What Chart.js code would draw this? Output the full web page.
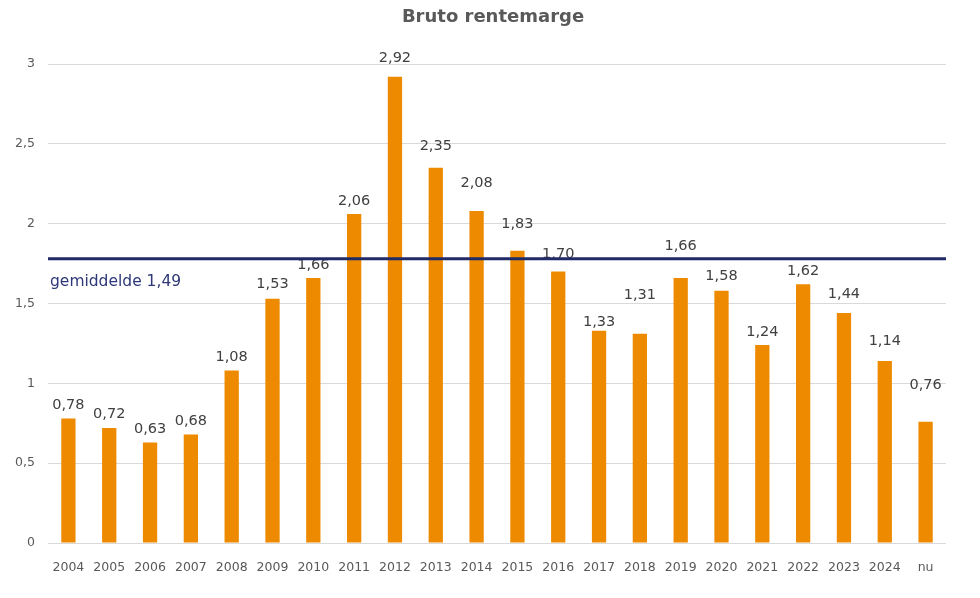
<!DOCTYPE html>
<html>
<head>
<meta charset="utf-8">
<script src="https://cdn.jsdelivr.net/npm/chart.js@4"></script>
<style>
  html, body { margin: 0; padding: 0; background: #fff; }
  #wrap { width: 980px; height: 598px; position: relative; }
</style>
</head>
<body>
<div id="wrap"><canvas id="chart"></canvas></div>
<script>
// Data
const categories = ['2004', '2005', '2006', '2007', '2008', '2009', '2010', '2011', '2012', '2013', '2014',
    '2015', '2016', '2017', '2018', '2019', '2020', '2021', '2022', '2023', '2024', 'nu'];
const margins = [0.78, 0.72, 0.63, 0.68, 1.08, 1.53, 1.66, 2.06, 2.92, 2.35, 2.08,
    1.83, 1.70, 1.33, 1.31, 1.66, 1.58, 1.24, 1.62, 1.44, 1.14, 0.76];
const averageLine = 1.78;
const averageLabel = 'gemiddelde 1,49';
const yTicks = [0, 0.5, 1, 1.5, 2, 2.5, 3];
const chartTitle = 'Bruto rentemarge';

const FONT = "'DejaVu Sans', Verdana, sans-serif";
const nl = v => String(v).replace('.', ',');

// Value labels sit above each bar; some were nudged by hand in the original
const labelLift = { '2005': 14, '2009': 14, '2012': 19, '2013': 22, '2014': 28, '2015': 27, '2016': 17,
    '2017': 8, '2018': 39, '2019': 32, '2020': 14, '2023': 19, '2024': 20, 'nu': 36 };

const valueLabels = {
    id: 'valueLabels',
    afterDatasetsDraw(chart) {
        const { ctx } = chart;
        const meta = chart.getDatasetMeta(0);
        ctx.save();
        ctx.font = '14.5px ' + FONT;
        ctx.fillStyle = '#404040';
        ctx.textAlign = 'center';
        ctx.textBaseline = 'middle';
        meta.data.forEach((bar, i) => {
            const lift = labelLift[categories[i]] || 13;
            ctx.fillText(margins[i].toFixed(2).replace('.', ','), bar.x, bar.y - lift);
        });
        ctx.restore();
    }
};

const averageMarker = {
    id: 'averageMarker',
    afterDatasetsDraw(chart) {
        const { ctx, chartArea } = chart;
        const y = chart.scales.y.getPixelForValue(averageLine);
        ctx.save();
        ctx.strokeStyle = '#1f2a66';
        ctx.lineWidth = 3;
        ctx.beginPath();
        ctx.moveTo(chartArea.left, y);
        ctx.lineTo(chartArea.right, y);
        ctx.stroke();
        ctx.font = '15.5px ' + FONT;
        ctx.fillStyle = '#2e3878';
        ctx.textAlign = 'left';
        ctx.textBaseline = 'middle';
        ctx.fillText(averageLabel, chartArea.left + 2, y + 23);
        ctx.restore();
    }
};

// Title is centred over the plot area, not over the canvas
const plotTitle = {
    id: 'plotTitle',
    afterDraw(chart) {
        const { ctx, chartArea } = chart;
        ctx.save();
        ctx.font = 'bold 18px ' + FONT;
        ctx.fillStyle = '#595959';
        ctx.textAlign = 'center';
        ctx.textBaseline = 'middle';
        ctx.fillText(chartTitle, (chartArea.left + chartArea.right) / 2 - 4, 17);
        ctx.restore();
    }
};

new Chart(document.getElementById('chart'), {
    type: 'bar',
    data: {
        labels: categories,
        datasets: [{
            label: chartTitle,
            data: margins,
            backgroundColor: '#ee8a00',
            borderWidth: 0,
            barPercentage: 0.35,
            categoryPercentage: 1
        }]
    },
    options: {
        responsive: true,
        maintainAspectRatio: false,
        animation: false,
        layout: { padding: { left: 0, right: 34, top: 64, bottom: 0 } },
        plugins: {
            legend: { display: false },
            tooltip: { enabled: false },
            title: { display: false }
        },
        scales: {
            x: {
                grid: { display: false },
                border: { display: false },
                ticks: {
                    color: '#595959',
                    font: { family: FONT, size: 12.5 },
                    padding: 9,
                    maxRotation: 0,
                    autoSkip: false
                },
                afterFit: s => { s.height = 55; }
            },
            y: {
                min: 0,
                max: 3,
                afterBuildTicks: s => { s.ticks = yTicks.map(v => ({ value: v })); },
                grid: { color: '#d9d9d9', drawTicks: false },
                border: { display: false },
                ticks: {
                    color: '#595959',
                    font: { family: FONT, size: 12.5 },
                    padding: 13,
                    callback: v => nl(v)
                },
                afterFit: s => { s.width = 48; }
            }
        }
    },
    plugins: [valueLabels, averageMarker, plotTitle]
});
</script>
</body>
</html>
